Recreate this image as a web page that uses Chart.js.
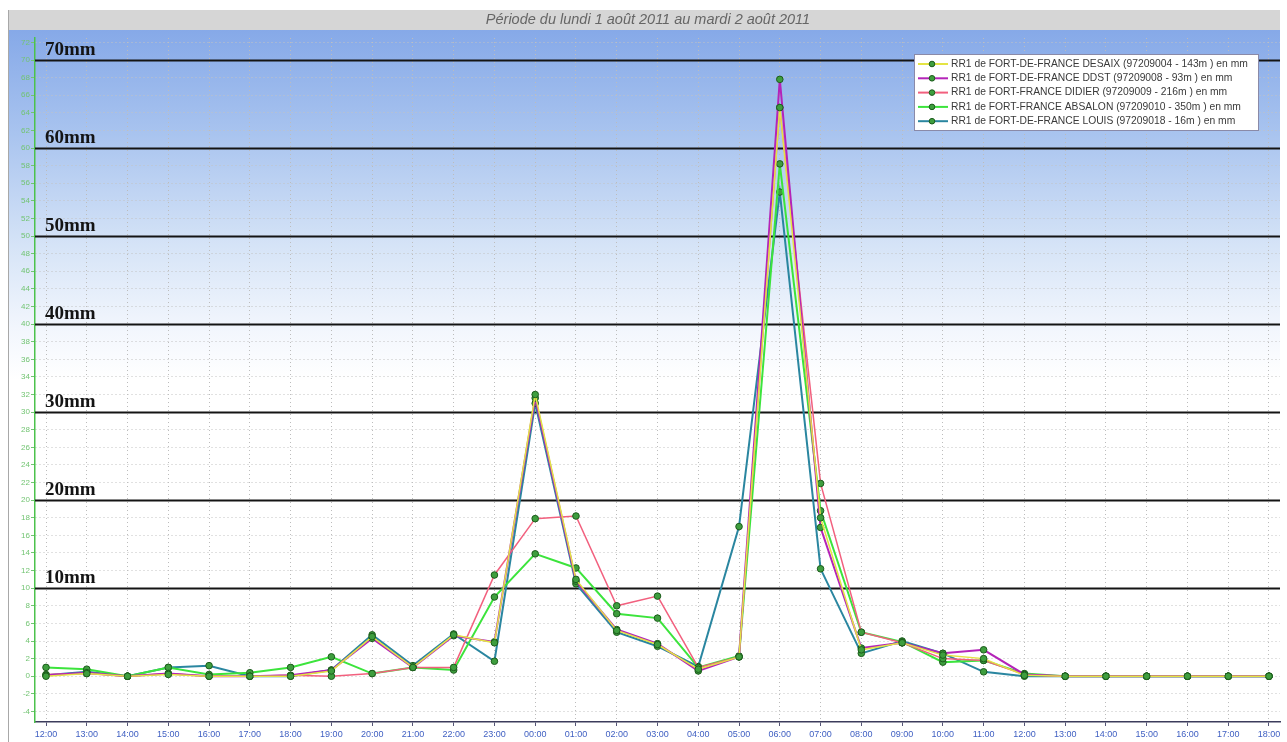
<!DOCTYPE html>
<html>
<head>
<meta charset="utf-8">
<script src="https://cdn.jsdelivr.net/npm/chart.js@4/dist/chart.umd.min.js"></script>
<style>
html,body{margin:0;padding:0;background:#fff;}
#wrap{width:1287px;height:742px;}
</style>
</head>
<body>
<div id="wrap"><canvas id="c" width="1287" height="742"></canvas></div>
<script>
const titleText = 'Période du lundi 1 août 2011 au mardi 2 août 2011';
const hours = ['12:00','13:00','14:00','15:00','16:00','17:00','18:00','19:00','20:00','21:00','22:00','23:00',
  '00:00','01:00','02:00','03:00','04:00','05:00','06:00','07:00','08:00','09:00','10:00','11:00',
  '12:00','13:00','14:00','15:00','16:00','17:00','18:00'];
const seriesNames = [
  'RR1 de FORT-DE-FRANCE DESAIX (97209004 - 143m ) en mm',
  'RR1 de FORT-DE-FRANCE DDST (97209008 - 93m ) en mm',
  'RR1 de FORT-FRANCE DIDIER (97209009 - 216m ) en mm',
  'RR1 de FORT-FRANCE ABSALON (97209010 - 350m ) en mm',
  'RR1 de FORT-DE-FRANCE LOUIS (97209018 - 16m ) en mm'
];
const desaix  = [0,0.3,0,0.2,0,0,0,0.6,4.5,1.0,4.7,3.8,32.0,11.0,5.2,3.6,0.8,2.2,64.6,18.0,3.0,3.8,2.4,2.0,0.1,0,0,0,0,0,0];
const ddst    = [0.1,0.4,0,0.3,0,0,0.1,0.7,4.3,1.0,4.6,3.9,31.6,10.8,5.3,3.7,0.6,2.2,67.8,16.9,3.2,3.8,2.6,3.0,0.2,0,0,0,0,0,0];
const didier  = [0.2,0.3,0,0.3,0,0,0.1,0,0.3,1.0,1.0,11.5,17.9,18.2,8.0,9.1,1.0,2.2,64.6,21.9,5.0,3.8,2.0,1.8,0.2,0,0,0,0,0,0];
const absalon = [1.0,0.8,0,1.0,0.2,0.4,1.0,2.2,0.3,1.0,0.7,9.0,13.9,12.3,7.1,6.6,1.0,2.3,58.2,18.8,5.0,3.9,1.6,1.8,0.3,0,0,0,0,0,0];
const louis   = [0.1,0.5,0,1.0,1.2,0,0,0.7,4.7,1.2,4.8,1.7,31.0,10.5,5.0,3.4,1.1,17.0,55.0,12.2,2.6,4.0,2.6,0.5,0,0,0,0,0,0,0];
const thresholds = [10,20,30,40,50,60,70];
const thresholdLabels = ['10mm','20mm','30mm','40mm','50mm','60mm','70mm'];
const yTickValues = [-4,-2,0,2,4,6,8,10,12,14,16,18,20,22,24,26,28,30,32,34,36,38,40,42,44,46,48,50,52,54,56,58,60,62,64,66,68,70,72];

const seriesValues = [desaix, ddst, didier, absalon, louis];
const seriesColors = ['#e4e444','#b424b8','#f2607e','#3ce43c','#2a86a0'];
const seriesWidths = [1.5,2,1.5,2,2];

const datasets = seriesValues.map((vals, i) => ({
  label: seriesNames[i],
  data: vals.map((v, k) => ({x: k, y: v})),
  borderColor: seriesColors[i],
  borderWidth: seriesWidths[i],
  pointRadius: 3.3,
  pointBackgroundColor: '#3e9e3e',
  pointBorderColor: '#1c5c1c',
  pointBorderWidth: 1,
  tension: 0,
  fill: false
}));

const bgPlugin = {
  id: 'bg',
  beforeDraw(chart) {
    const ctx = chart.ctx;
    const W = chart.width, H = chart.height;
    ctx.save();
    ctx.fillStyle = '#ffffff';
    ctx.fillRect(0, 0, W, H);
    const g = ctx.createLinearGradient(0, 30, 0, 380);
    g.addColorStop(0, '#86a9e8');
    g.addColorStop(0.3, '#a9c4ef');
    g.addColorStop(0.62, '#d6e4f7');
    g.addColorStop(0.85, '#f2f6fd');
    g.addColorStop(1, '#ffffff');
    ctx.fillStyle = g;
    ctx.fillRect(8, 30, 1272, 350);
    ctx.fillStyle = '#d6d6d6';
    ctx.fillRect(8, 10, 1272, 20);
    ctx.font = 'italic 14.5px "Liberation Sans", Arial, sans-serif';
    ctx.fillStyle = '#666666';
    ctx.textAlign = 'center';
    ctx.textBaseline = 'middle';
    ctx.fillText(titleText, 648, 20);
    ctx.strokeStyle = '#a8a8a8';
    ctx.lineWidth = 1;
    ctx.beginPath();
    ctx.moveTo(8.5, 10);
    ctx.lineTo(8.5, H);
    ctx.stroke();
    ctx.restore();
  },
  beforeDatasetsDraw(chart) {
    const ctx = chart.ctx;
    const ys = chart.scales.y;
    const a = chart.chartArea;
    ctx.save();
    thresholds.forEach((t, i) => {
      const py = Math.round(ys.getPixelForValue(t)) + 0.5;
      ctx.strokeStyle = '#141414';
      ctx.lineWidth = 2;
      ctx.beginPath();
      ctx.moveTo(a.left, py);
      ctx.lineTo(a.right, py);
      ctx.stroke();
      ctx.font = 'bold 19px "Liberation Serif", "Times New Roman", serif';
      ctx.fillStyle = '#141414';
      ctx.textAlign = 'left';
      ctx.textBaseline = 'alphabetic';
      ctx.fillText(thresholdLabels[i], 45, py - 6);
    });
    ctx.restore();
  },
  afterDraw(chart) {
    const ctx = chart.ctx;
    ctx.save();
    const bx = 914.5, by = 54.5, bw = 344, bh = 76;
    ctx.fillStyle = '#ffffff';
    ctx.fillRect(bx, by, bw, bh);
    ctx.strokeStyle = '#8a8aa8';
    ctx.lineWidth = 1;
    ctx.strokeRect(bx, by, bw, bh);
    ctx.font = '10.3px "Liberation Sans", Arial, sans-serif';
    ctx.textBaseline = 'middle';
    ctx.textAlign = 'left';
    chart.data.datasets.forEach((ds, i) => {
      const y = 64 + i * 14.3;
      ctx.strokeStyle = ds.borderColor;
      ctx.lineWidth = 2;
      ctx.beginPath();
      ctx.moveTo(918, y);
      ctx.lineTo(948, y);
      ctx.stroke();
      ctx.beginPath();
      ctx.arc(932, y, 2.8, 0, Math.PI * 2);
      ctx.fillStyle = '#3e9e3e';
      ctx.fill();
      ctx.strokeStyle = '#1c5c1c';
      ctx.lineWidth = 1;
      ctx.stroke();
      ctx.fillStyle = '#3a3a3a';
      ctx.fillText(ds.label, 951, y);
    });
    ctx.restore();
  }
};

new Chart(document.getElementById('c'), {
  type: 'line',
  data: { datasets },
  options: {
    responsive: false,
    animation: false,
    events: [],
    layout: { padding: { left: 8, top: 38, right: 7, bottom: 0 } },
    plugins: { legend: { display: false }, tooltip: { enabled: false }, title: { display: false } },
    scales: {
      x: {
        type: 'linear',
        min: -0.27,
        max: 30.27,
        afterBuildTicks(scale) { scale.ticks = hours.map((h, k) => ({ value: k })); },
        afterFit(scale) { scale.height = 20; },
        ticks: {
          autoSkip: false,
          maxRotation: 0,
          padding: 3,
          color: '#3f5fc2',
          font: { size: 9, family: '"Liberation Sans", Arial, sans-serif' },
          callback: (v) => hours[v]
        },
        grid: { color: '#bcbcbc', lineWidth: 1, tickLength: 4, tickColor: '#555577' },
        border: { display: true, color: '#3c3c5c', width: 1.5, dash: [1, 3] }
      },
      y: {
        type: 'linear',
        min: -5.2,
        max: 72.5,
        afterBuildTicks(scale) { scale.ticks = yTickValues.map(v => ({ value: v })); },
        afterFit(scale) { scale.width = 27; },
        ticks: {
          autoSkip: false,
          padding: 1,
          color: '#72c472',
          font: { size: 8, family: '"Liberation Sans", Arial, sans-serif' }
        },
        grid: { color: '#c2c2c2', lineWidth: 1, tickLength: 4, tickColor: '#72c472' },
        border: { display: true, color: '#4cc24c', width: 1.5, dash: [1, 3] }
      }
    }
  },
  plugins: [bgPlugin]
});
</script>
</body>
</html>
